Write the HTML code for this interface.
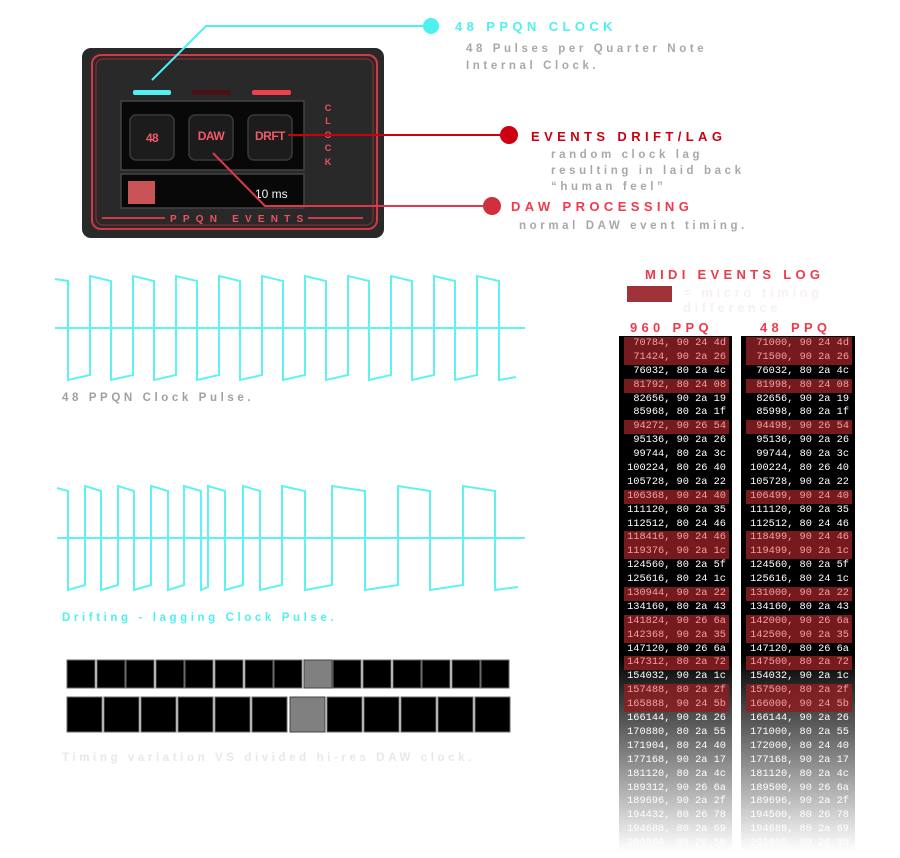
<!DOCTYPE html>
<html><head><meta charset="utf-8"><style>
body{margin:0;background:#fff;width:900px;height:858px;overflow:hidden;position:relative;font-family:"Liberation Sans",sans-serif}
.log{position:absolute;top:336px;height:514px;background:linear-gradient(#000 0,#000 62%,#fff 100%);overflow:hidden}
.row{height:13.9px;white-space:pre;font:10.3px/13.9px "Liberation Mono",monospace;color:#fff;text-align:right;padding-right:3px;margin:0 3px 0 5px}
.h{background:rgba(140,30,35,.85);color:#f2a0a4}
svg{position:absolute;left:0;top:0}
</style></head><body>
<div class="log" style="left:619px;width:113px;padding-top:1px" id="L"></div>
<div class="log" style="left:741px;width:114px;padding-top:1px" id="R"></div>
<svg width="900" height="858" xmlns="http://www.w3.org/2000/svg">
<rect x="82" y="48" width="302" height="190" rx="9" fill="#292929"/>
<rect x="92" y="55" width="285" height="174" rx="9" fill="none" stroke="#d03a48" stroke-width="2"/>
<rect x="96" y="59" width="277" height="166" rx="7" fill="none" stroke="#a02a35" stroke-width="1"/>
<rect x="133" y="90" width="38" height="5" rx="2" fill="#4ef0f0"/>
<rect x="192" y="90" width="39" height="5" rx="2" fill="#4a1018"/>
<rect x="252" y="90" width="39" height="5" rx="2" fill="#f04050"/>
<rect x="121" y="101" width="183" height="69" fill="#080808" stroke="#444" stroke-width="1.5"/>
<g fill="#1c1c1c" stroke="#3a3a3a" stroke-width="1.5">
<rect x="130" y="115" width="44" height="45" rx="6"/><rect x="189" y="115" width="44" height="45" rx="6"/><rect x="248" y="115" width="44" height="45" rx="6"/></g>
<g fill="#f05a6a" font-weight="bold" font-size="12" text-anchor="middle" letter-spacing="-0.5">
<text x="152" y="142">48</text><text x="211" y="140">DAW</text><text x="270" y="140">DRFT</text></g>
<g fill="#f05060" font-weight="bold" font-size="9" text-anchor="middle">
<text x="328" y="111">C</text><text x="328" y="124">L</text><text x="328" y="138">O</text><text x="328" y="151">C</text><text x="328" y="165">K</text></g>
<rect x="121" y="174" width="183" height="34" fill="#080808" stroke="#444" stroke-width="1.5"/>
<rect x="128" y="181" width="27" height="23" fill="#c85458"/>
<text x="255" y="198" fill="#f0f0f0" font-size="12">10 ms</text>
<line x1="102" y1="218" x2="165" y2="218" stroke="#d03a48" stroke-width="2"/>
<line x1="308" y1="218" x2="363" y2="218" stroke="#d03a48" stroke-width="2"/>
<text x="170" y="222" fill="#f05060" font-size="10" font-weight="bold" letter-spacing="6.2">PPQN EVENTS</text>
<polyline points="152,80 206,26 431,26" fill="none" stroke="#4ef0f0" stroke-width="2"/>
<circle cx="431" cy="26" r="8" fill="#4ef0f0"/>
<line x1="288" y1="135" x2="509" y2="135" stroke="#cc0010" stroke-width="2"/>
<circle cx="509" cy="135" r="9" fill="#cc0010"/>
<polyline points="213,153 265,206 492,206" fill="none" stroke="#e03848" stroke-width="2"/>
<circle cx="492" cy="206" r="9" fill="#d0303e"/>
<g font-weight="bold" font-size="13">
<text x="455" y="31" fill="#4ef0f0" letter-spacing="4.4">48 PPQN CLOCK</text>
<text x="531" y="141" fill="#cc0010" letter-spacing="4.4">EVENTS DRIFT/LAG</text>
<text x="511" y="211" fill="#f03a4a" letter-spacing="4.4">DAW PROCESSING</text></g>
<g font-weight="bold" font-size="11.5" fill="#a8a8a8" letter-spacing="3.6">
<text x="466" y="52">48 Pulses per Quarter Note</text>
<text x="466" y="69">Internal Clock.</text>
<text x="551" y="158">random clock lag</text>
<text x="551" y="174">resulting in laid back</text>
<text x="551" y="190">“human feel”</text>
<text x="519" y="229">normal DAW event timing.</text>
<text x="62" y="401" fill="#a0a0a0">48 PPQN Clock Pulse.</text>
<text x="62" y="621" fill="#4ef0f0">Drifting - lagging Clock Pulse.</text>
<text x="62" y="761" fill="#e8e8e8">Timing variation VS divided hi-res DAW clock.</text>
<text x="683" y="297" fill="#f8f0f0" font-size="13">= micro timing</text>
<text x="683" y="312" fill="#f8f0f0" font-size="13">difference</text>
</g>
<g font-weight="bold" font-size="13" fill="#f03a4a" letter-spacing="4.3">
<text x="645" y="279">MIDI EVENTS LOG</text>
<text x="630" y="332">960 PPQ</text>
<text x="760" y="332">48 PPQ</text></g>
<rect x="627" y="286" width="45" height="16" fill="#a0333a"/>
<g fill="none" stroke="#5ef2f2" stroke-width="2">
<line x1="55" y1="328" x2="525" y2="328"/>
<polyline points="55,279 68,281 68,380 90,375 90,276 111,281 111,380 133,375 133,276 154,281 154,380 176,375 176,276 197,281 197,380 219,375 219,276 240,281 240,380 262,375 262,276 283,281 283,380 305,375 305,276 326,281 326,380 348,375 348,276 369,281 369,380 391,375 391,276 412,281 412,380 434,375 434,276 455,281 455,380 477,375 477,276 499,281 499,380 516,377"/>
<line x1="57" y1="538" x2="525" y2="538"/>
<polyline points="57,488 68,491 68,590 85,585 85,486 101,491 101,590 118,585 118,486 134,491 134,590 151,585 151,486 168,491 168,590 184,585 184,486 201,491 201,590 208,587 208,486 225,491 225,590 243,585 243,486 260,491 260,590 282,585 282,486 305,491 305,590 332,585 332,486 365,491 365,590 398,585 398,486 430,491 430,590 463,585 463,486 495,491 495,590 518,587"/>
</g>
<g stroke="#6a6a6a" stroke-width="1">
<rect x="67" y="660" width="28" height="28"/><rect x="97" y="660" width="28" height="28"/><rect x="126" y="660" width="28" height="28"/><rect x="156" y="660" width="28" height="28"/><rect x="185" y="660" width="28" height="28"/><rect x="215" y="660" width="28" height="28"/><rect x="245" y="660" width="28" height="28"/><rect x="274" y="660" width="28" height="28"/><rect x="304" y="660" width="28" height="28" fill="#808080" stroke="#444"/><rect x="333" y="660" width="28" height="28"/><rect x="363" y="660" width="28" height="28"/><rect x="393" y="660" width="28" height="28"/><rect x="422" y="660" width="28" height="28"/><rect x="452" y="660" width="28" height="28"/><rect x="481" y="660" width="28" height="28"/>
<rect x="67" y="697" width="35" height="35"/><rect x="104" y="697" width="35" height="35"/><rect x="141" y="697" width="35" height="35"/><rect x="178" y="697" width="35" height="35"/><rect x="215" y="697" width="35" height="35"/><rect x="252" y="697" width="35" height="35"/><rect x="290" y="697" width="35" height="35" fill="#808080" stroke="#444"/><rect x="327" y="697" width="35" height="35"/><rect x="364" y="697" width="35" height="35"/><rect x="401" y="697" width="35" height="35"/><rect x="438" y="697" width="35" height="35"/><rect x="475" y="697" width="35" height="35"/>
</g>
</svg>
<script>
var d=[["70784, 90 24 4d","71000, 90 24 4d",1],["71424, 90 2a 26","71500, 90 2a 26",1],["76032, 80 2a 4c","76032, 80 2a 4c"],["81792, 80 24 08","81998, 80 24 08",1],["82656, 90 2a 19","82656, 90 2a 19"],["85968, 80 2a 1f","85998, 80 2a 1f"],["94272, 90 26 54","94498, 90 26 54",1],["95136, 90 2a 26","95136, 90 2a 26"],["99744, 80 2a 3c","99744, 80 2a 3c"],["100224, 80 26 40","100224, 80 26 40"],["105728, 90 2a 22","105728, 90 2a 22"],["106368, 90 24 40","106499, 90 24 40",1],["111120, 80 2a 35","111120, 80 2a 35"],["112512, 80 24 46","112512, 80 24 46"],["118416, 90 24 46","118499, 90 24 46",1],["119376, 90 2a 1c","119499, 90 2a 1c",1],["124560, 80 2a 5f","124560, 80 2a 5f"],["125616, 80 24 1c","125616, 80 24 1c"],["130944, 90 2a 22","131000, 90 2a 22",1],["134160, 80 2a 43","134160, 80 2a 43"],["141824, 90 26 6a","142000, 90 26 6a",1],["142368, 90 2a 35","142500, 90 2a 35",1],["147120, 80 26 6a","147120, 80 26 6a"],["147312, 80 2a 72","147500, 80 2a 72",1],["154032, 90 2a 1c","154032, 90 2a 1c"],["157488, 80 2a 2f","157500, 80 2a 2f",1],["165888, 90 24 5b","166000, 90 24 5b",1],["166144, 90 2a 26","166144, 90 2a 26"],["170880, 80 2a 55","171000, 80 2a 55"],["171904, 80 24 40","172000, 80 24 40"],["177168, 90 2a 17","177168, 90 2a 17"],["181120, 80 2a 4c","181120, 80 2a 4c"],["189312, 90 26 6a","189500, 90 26 6a"],["189696, 90 2a 2f","189696, 90 2a 2f"],["194432, 80 26 78","194500, 80 26 78"],["194688, 80 2a 69","194688, 80 2a 69"],["200960, 80 26 5b","201000, 80 26 5b"]];
var L=document.getElementById("L"),R=document.getElementById("R"),a="",b="";
d.forEach(function(r){var c=r[2]?"row h":"row";a+='<div class="'+c+'">'+r[0]+'</div>';b+='<div class="'+c+'">'+r[1]+'</div>';});
L.innerHTML=a;R.innerHTML=b;
</script>
</body></html>
